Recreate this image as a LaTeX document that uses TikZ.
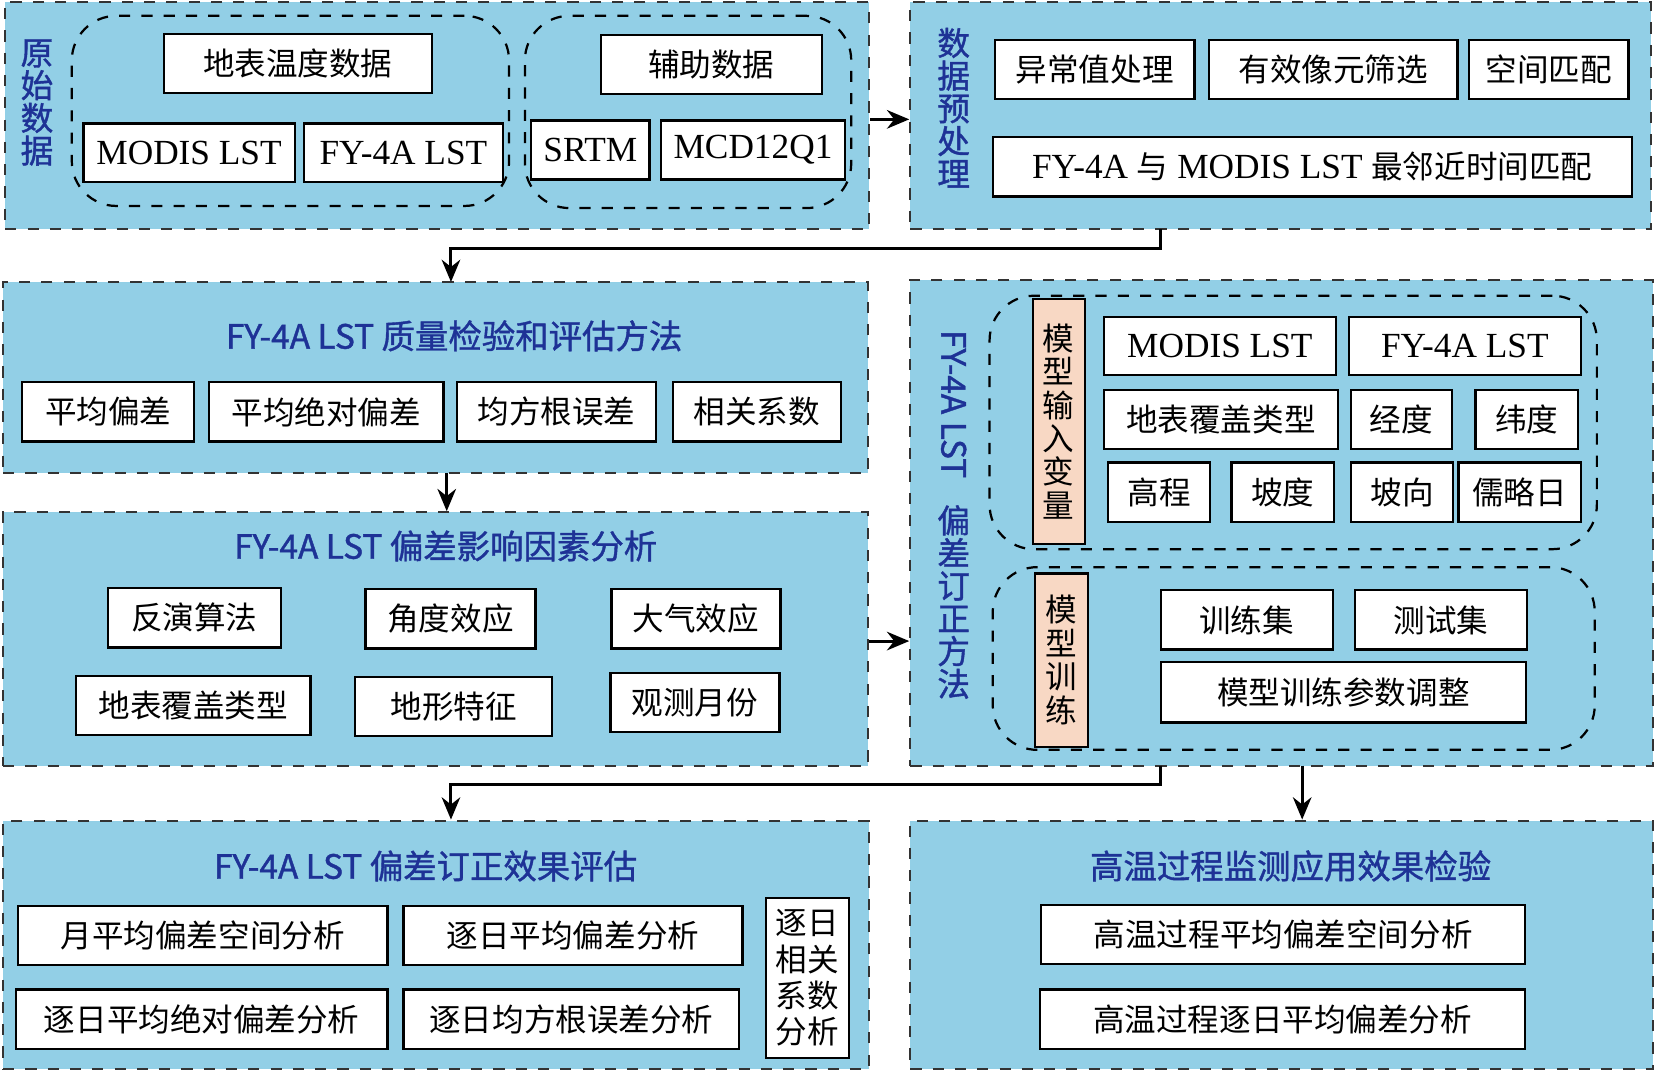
\documentclass[tikz,border=0pt]{standalone}
\usepackage{fontspec}
\setmainfont{Liberation Serif}
\newfontfamily\zh{Noto Sans CJK SC}
\newfontfamily\zhb[FakeBold=1.2]{Noto Sans CJK SC}
\usetikzlibrary{arrows.meta}
\definecolor{panelc}{RGB}{146,207,230}
\definecolor{headc}{RGB}{30,50,150}
\definecolor{pinkc}{RGB}{248,216,196}
\newcommand\Lt{\rmfamily\fontsize{9.5}{11}\selectfont}
\newcommand\Bx[6]{%
 \pgfmathsetmacro\bw{(#4-#2)*0.01}\pgfmathsetmacro\bh{(#5-#3)*0.01}%
 \node[box,minimum width=\bw cm,minimum height=\bh cm] (#1) at ({(#2+#4)/2},{(#3+#5)/2}) {#6};}
\newcommand\Pn[5]{%
 \pgfmathsetmacro\bw{(#4-#2)*0.01}\pgfmathsetmacro\bh{(#5-#3)*0.01}%
 \node[panel,minimum width=\bw cm,minimum height=\bh cm] (#1) at ({(#2+#4)/2},{(#3+#5)/2}) {};}
\newcommand\Gr[5]{%
 \pgfmathsetmacro\bw{(#4-#2)*0.01}\pgfmathsetmacro\bh{(#5-#3)*0.01}%
 \node[grp,minimum width=\bw cm,minimum height=\bh cm] (#1) at ({(#2+#4)/2},{(#3+#5)/2}) {};}
\newcommand\Pk[6]{%
 \pgfmathsetmacro\bw{(#4-#2)*0.01}\pgfmathsetmacro\bh{(#5-#3)*0.01}%
 \node[box,fill=pinkc,align=center,inner sep=0pt,minimum width=\bw cm,minimum height=\bh cm,font=\zh\fontsize{8.5}{9}\selectfont] (#1) at ({(#2+#4)/2},{(#3+#5)/2}) {#6};}
\tikzset{
 box/.style={draw=black,fill=white,line width=0.6pt,inner sep=0pt,font=\zh\fontsize{8.5}{10}\selectfont},
 panel/.style={draw=black!80,fill=panelc,dashed,line width=0.6pt,inner sep=0pt},
 grp/.style={draw=black,dashed,rounded corners=12pt,line width=0.6pt,inner sep=0pt},
 head/.style={text=headc,font=\zhb\fontsize{9}{10}\selectfont},
 vlab/.style={text=headc,align=center,font=\zhb\fontsize{8.8}{8.8}\selectfont},
 arr/.style={-{Stealth[length=6pt,width=5pt]},line width=0.8pt},
}
\begin{document}
\begin{tikzpicture}[x=0.01cm,y=-0.01cm]
\useasboundingbox[fill=white] (0,0) rectangle (1568,1014);
% panels
\Pn{p1}{5}{2}{823}{217}
\Pn{p2}{862}{2}{1563}{217}
\Pn{p3}{3}{267}{822}{448}
\Pn{p4}{3}{485}{822}{725}
\Pn{p5}{862}{265}{1565}{725}
\Pn{p6}{3}{777}{823}{1012}
\Pn{p7}{862}{777}{1565}{1012}
% P1
\node[vlab] (l1) at (35,97) {原\\始\\数\\据};
\Gr{g1}{68}{15}{482}{195}
\Gr{g2}{497}{15}{806}{197}
\Bx{b1}{155}{32}{409}{88}{地表温度数据}
\Bx{b2}{79}{117}{279}{172}{\Lt MODIS LST}
\Bx{b3}{288}{117}{476}{172}{\Lt FY-4A LST}
\Bx{b4}{569}{33}{778}{89}{辅助数据}
\Bx{b5}{503}{114}{615}{170}{\Lt SRTM}
\Bx{b6}{626}{114}{800}{170}{\Lt MCD12Q1}
% P2
\node[vlab] (l2) at (903,102) {数\\据\\预\\处\\理};
\Bx{c1}{942}{38}{1131}{94}{异常值处理}
\Bx{c2}{1145}{38}{1380}{94}{有效像元筛选}
\Bx{c3}{1391}{38}{1542}{94}{空间匹配}
\Bx{c4}{940}{130}{1545}{186}{\Lt FY-4A {\zh\fontsize{8.5}{10}\selectfont 与} MODIS LST {\zh\fontsize{8.5}{10}\selectfont 最邻近时间匹配}}
% P3
\node[head] (h3) at (430,318) {FY-4A LST 质量检验和评估方法};
\Bx{d1}{21}{362}{184}{418}{平均偏差}
\Bx{d2}{198}{362}{420}{418}{平均绝对偏差}
\Bx{d3}{433}{362}{621}{418}{均方根误差}
\Bx{d4}{637}{362}{796}{418}{相关系数}
% P4
\node[head] (h4) at (422,517) {FY-4A LST 偏差影响因素分析};
\Bx{e1}{102}{557}{266}{613}{反演算法}
\Bx{e2}{346}{558}{507}{614}{角度效应}
\Bx{e3}{579}{558}{739}{614}{大气效应}
\Bx{e4}{72}{640}{294}{696}{地表覆盖类型}
\Bx{e5}{336}{641}{523}{697}{地形特征}
\Bx{e6}{578}{637}{738}{693}{观测月份}
% P5
\node[head,rotate=-90,anchor=west] (l5a) at (903,300) {FY-4A LST};
\node[vlab,anchor=north] (l5b) at (903,466) {偏\\差\\订\\正\\方\\法};
\Gr{g3}{937}{280}{1512}{520}
\Gr{g4}{940}{537}{1510}{710}
\Pk{k1}{978}{283}{1027}{515}{模\\型\\输\\入\\变\\量}
\Pk{k2}{980}{543}{1030}{707}{模\\型\\训\\练}
\Bx{f1}{1045}{300}{1265}{355}{\Lt MODIS LST}
\Bx{f2}{1277}{300}{1497}{355}{\Lt FY-4A LST}
\Bx{f3}{1045}{369}{1267}{425}{地表覆盖类型}
\Bx{f4}{1279}{369}{1375}{425}{经度}
\Bx{f5}{1397}{369}{1494}{425}{纬度}
\Bx{f6}{1049}{438}{1146}{494}{高程}
\Bx{f7}{1166}{438}{1263}{494}{坡度}
\Bx{f8}{1279}{438}{1376}{494}{坡向}
\Bx{f9}{1381}{438}{1497}{494}{儒略日}
\Bx{m1}{1099}{559}{1262}{615}{训练集}
\Bx{m2}{1283}{559}{1446}{615}{测试集}
\Bx{m3}{1099}{627}{1445}{684}{模型训练参数调整}
% P6
\node[head] (h6) at (403,820) {FY-4A LST 偏差订正效果评估};
\Bx{q1}{17}{858}{367}{914}{月平均偏差空间分析}
\Bx{q2}{382}{858}{703}{914}{逐日平均偏差分析}
\Bx{q3}{15}{937}{367}{993}{逐日平均绝对偏差分析}
\Bx{q4}{382}{937}{700}{993}{逐日均方根误差分析}
\node[box,align=center,font=\zh\fontsize{8.5}{9.8}\selectfont,minimum width=0.79cm,minimum height=1.52cm] (q5) at (764.5,926) {逐日\\相关\\系数\\分析};
% P7
\node[head] (h7) at (1222,820) {高温过程监测应用效果检验};
\Bx{r1}{986}{857}{1444}{913}{高温过程平均偏差空间分析}
\Bx{r2}{985}{937}{1444}{993}{高温过程逐日平均偏差分析}
% arrows
\coordinate (a1) at (p1.east |- 0,113);
\draw[arr] (a1) -- (a1 -| p2.west);
\coordinate (a2) at (1099,217);
\coordinate (a3) at (427,267);
\draw[arr] (a2) |- (427,235) -- (a3);
\draw[arr] (423,448) -- (423,484);
\coordinate (a4) at (p4.east |- 0,607);
\draw[arr] (a4) -- (a4 -| p5.west);
\coordinate (a5) at (1099,725);
\draw[arr] (a5) |- (427,743) -- (427,776);
\draw[arr] (1233,725) -- (1233,776);
\end{tikzpicture}
\end{document}
